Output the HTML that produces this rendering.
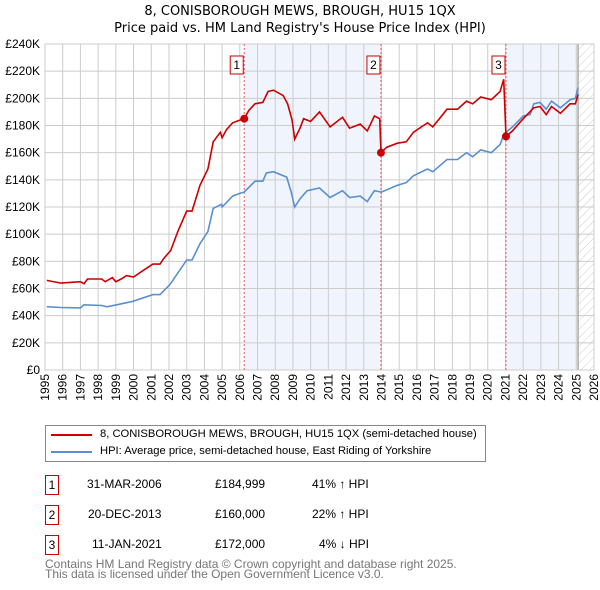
<!DOCTYPE html>
<html><head><meta charset="utf-8"><style>
body{margin:0;background:#fff;font-family:"Liberation Sans","DejaVu Sans",sans-serif;}
#wrap{position:relative;width:600px;height:590px;overflow:hidden}
.t{position:absolute;font-size:12px;color:#000;white-space:nowrap}
.box{position:absolute;border:1px solid #c00;width:12px;height:18px;font-size:12px;text-align:center;line-height:18px}
</style></head><body><div id="wrap">
<svg id="chart" width="600" height="420" style="position:absolute;left:0;top:0"></svg>
<div style="position:absolute;left:45px;top:425px;width:439px;height:35px;border:1px solid #888">
 <div style="position:absolute;left:5px;top:8px;width:41px;height:2px;background:#c00"></div>
 <div class="t" style="left:54px;top:2px;font-size:11.2px">8, CONISBOROUGH MEWS, BROUGH, HU15 1QX (semi-detached house)</div>
 <div style="position:absolute;left:5px;top:25px;width:41px;height:2px;background:#5b8fd0"></div>
 <div class="t" style="left:54px;top:19px;font-size:11.2px">HPI: Average price, semi-detached house, East Riding of Yorkshire</div>
</div>
<div>
 <div class="box" style="left:45px;top:475px">1</div>
 <div class="t" style="left:87px;top:477px">31-MAR-2006</div><div class="t" style="left:215px;top:477px">£184,999</div><div class="t" style="left:312px;top:477px">41% ↑ HPI</div>
 <div class="box" style="left:45px;top:505px">2</div>
 <div class="t" style="left:88px;top:507px">20-DEC-2013</div><div class="t" style="left:215px;top:507px">£160,000</div><div class="t" style="left:312px;top:507px">22% ↑ HPI</div>
 <div class="box" style="left:45px;top:535px">3</div>
 <div class="t" style="left:92px;top:537px">11-JAN-2021</div><div class="t" style="left:215px;top:537px">£172,000</div><div class="t" style="left:319px;top:537px">4% ↓ HPI</div>
</div>
<div class="t" style="left:45px;top:559px;color:#777;line-height:10px">Contains HM Land Registry data © Crown copyright and database right 2025.<br>This data is licensed under the Open Government Licence v3.0.</div>
</div>
<script>
const hpiYears=[1995.1,1995.9,1997.0,1997.2,1998.2,1998.5,1999.05,1999.97,2001.1,2001.5,2002.06,2003.0,2003.3,2003.75,2004.2,2004.5,2004.97,2005.0,2005.6,2006.0,2006.25,2006.86,2007.3,2007.5,2007.9,2008.65,2008.9,2009.1,2009.4,2009.8,2010.5,2011.1,2011.8,2012.2,2012.8,2013.2,2013.6,2014.0,2014.9,2015.4,2015.8,2016.6,2016.9,2017.7,2018.3,2018.8,2019.15,2019.6,2020.2,2020.7,2020.93,2021.4,2022.0,2022.4,2022.6,2022.95,2023.3,2023.6,2024.1,2024.65,2024.95,2025.1];
const hpiValues=[46.6,46,45.7,48,47.5,46.5,48,50.6,55.5,55.5,63,81,81,93,102,119,122,120,128,130,131,139,139,145,146,142,131,120,126,132,134,127,132,127,128,124,132,131,136,138,143,148,146,155,155,160,157,162,160,166,174,179,187,188,196,197,192,198,193,199,200,208];
const priceYears=[1995.1,1995.9,1997.0,1997.2,1997.4,1998.2,1998.4,1998.8,1999.0,1999.3,1999.6,2000.0,2000.75,2001.1,2001.5,2001.7,2002.1,2002.5,2003.0,2003.3,2003.75,2004.2,2004.5,2004.9,2005.0,2005.25,2005.6,2006.0,2006.25,2006.5,2006.86,2007.3,2007.6,2007.9,2008.45,2008.7,2008.95,2009.1,2009.4,2009.6,2010.0,2010.5,2011.1,2011.8,2012.2,2012.8,2013.2,2013.6,2013.9,2013.97,2014.3,2014.9,2015.4,2015.8,2016.6,2016.9,2017.7,2018.3,2018.8,2019.15,2019.6,2020.2,2020.7,2020.9,2021.03,2021.4,2022.0,2022.6,2022.95,2023.3,2023.6,2024.1,2024.65,2024.95,2025.1];
const priceValues=[66,64,65,63.5,67,67,65,68,65,67,69.5,68.5,75,78,78,82,88,102,117,117,136,148,168,175,171,177,182,184,185,191,196,197,205,206,202,196,184,170,178,185,183,190,179,186,178,181,176,187,185,160,164,167,168,175,182,179,192,192,198,196,201,199,205,214,172,176,185,193,194,188,194,189,196,196,203];
const saleYears=[2006.25,2013.97,2021.03];
const saleValues=[184.999,160,172];
const saleLabels=["1","2","3"];
const yTicks=[0,20,40,60,80,100,120,140,160,180,200,220,240];
const xTicks=[1995,1996,1997,1998,1999,2000,2001,2002,2003,2004,2005,2006,2007,2008,2009,2010,2011,2012,2013,2014,2015,2016,2017,2018,2019,2020,2021,2022,2023,2024,2025,2026];

const L=45,R=594,T=44,B=370;
const X=y=>L+(y-1995)/31*(R-L);
const Y=v=>B-v/240*(B-T);
const svg=document.getElementById('chart');
const NS='http://www.w3.org/2000/svg';
function mk(tag,attrs){const e=document.createElementNS(NS,tag);for(const k in attrs)e.setAttribute(k,attrs[k]);svg.appendChild(e);return e;}
let t1=mk('text',{x:300,y:15,'text-anchor':'middle','font-size':13,'font-family':'DejaVu Sans, sans-serif'});t1.textContent='8, CONISBOROUGH MEWS, BROUGH, HU15 1QX';


let t2=mk('text',{x:300,y:32,'text-anchor':'middle','font-size':13,'font-family':'DejaVu Sans, sans-serif'});t2.textContent="Price paid vs. HM Land Registry's House Price Index (HPI)";


let s1=mk('rect',{x:X(saleYears[0]),y:T,width:X(saleYears[1])-X(saleYears[0]),height:B-T,fill:'#f0f4fd'});


let s2=mk('rect',{x:X(saleYears[2]),y:T,width:X(2025.1)-X(saleYears[2]),height:B-T,fill:'#f0f4fd'});


let defs=mk('defs',{});defs.innerHTML='<pattern id="h" width="6" height="6" patternUnits="userSpaceOnUse" patternTransform="rotate(45)"><line x1="0" y1="0" x2="0" y2="6" stroke="#ccc" stroke-width="1"/></pattern>';
let hz=mk('rect',{x:X(2025.1),y:T,width:R-X(2025.1),height:B-T,fill:'url(#h)'});


xTicks.forEach(y=>{mk('line',{x1:X(y),x2:X(y),y1:T,y2:B,stroke:'#ccc','stroke-width':1});
 let tx=mk('text',{x:0,y:0,'font-size':12,'text-anchor':'end',transform:`translate(${X(y)+4},${B+4}) rotate(-90)`});tx.textContent=y;
 
 });
yTicks.forEach(v=>{mk('line',{x1:L,x2:R,y1:Y(v),y2:Y(v),stroke:'#ccc','stroke-width':1});
 let ty=mk('text',{x:40,y:Y(v)+4,'font-size':12,'text-anchor':'end'});ty.textContent=v===0?'£0':'£'+v+'K';
 
 });
mk('line',{x1:X(2025.1),x2:X(2025.1),y1:T,y2:B,stroke:'#888','stroke-width':1});
mk('rect',{x:L,y:T,width:R-L,height:B-T,fill:'none',stroke:'#ccc'});
saleYears.forEach((y,i)=>{mk('line',{x1:X(y),x2:X(y),y1:T,y2:B,stroke:'#e06060','stroke-width':1,'stroke-dasharray':'2,2'});
 let b=mk('rect',{x:X(y)-14,y:56,width:13,height:18,fill:'#fff',stroke:'#c00'});
 
 
 let tt=mk('text',{x:X(y)-7.5,y:69,'font-size':12,'text-anchor':'middle'});tt.textContent=saleLabels[i];});
function path(xs,vs,col,name){const d=xs.map((x,i)=>(i?'L':'M')+X(x).toFixed(1)+','+Y(vs[i]).toFixed(1)).join('');
 const p=mk('path',{d:d,fill:'none',stroke:col,'stroke-width':1.6});
 
 }
path(hpiYears,hpiValues,'#5b8fd0','hpi-line');
path(priceYears,priceValues,'#cc0000','price-line');
saleYears.forEach((y,i)=>{const c=mk('circle',{cx:X(y),cy:Y(saleValues[i]),r:4,fill:'#cc0000'});
 
 });
</script></body></html>
